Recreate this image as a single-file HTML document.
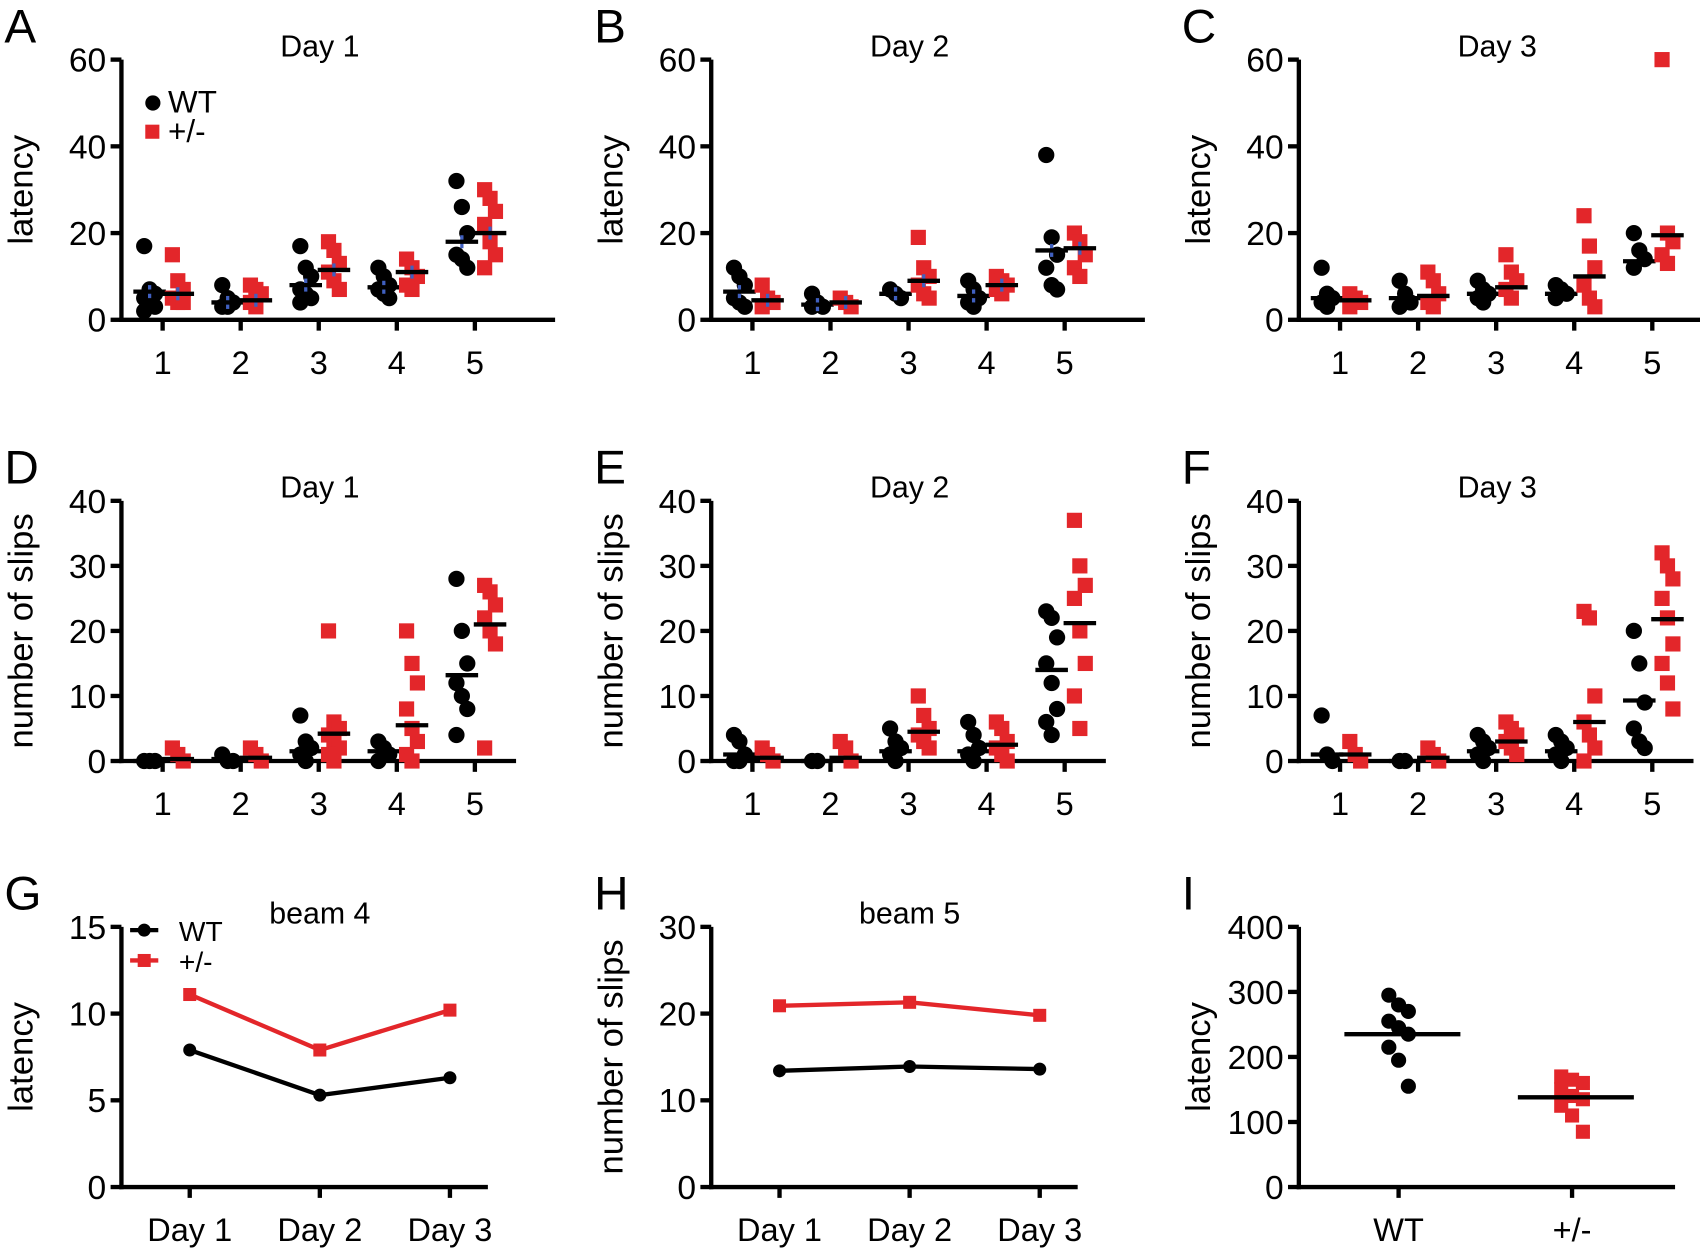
<!DOCTYPE html>
<html><head><meta charset="utf-8"><style>
html,body{margin:0;padding:0;background:#fff}
svg{display:block}
text{font-family:"Liberation Sans",sans-serif;fill:#000}
</style></head><body>
<svg id="s" width="1700" height="1251" viewBox="0 0 1568 1154" preserveAspectRatio="none" xmlns="http://www.w3.org/2000/svg"></svg>
<script>
const S=document.getElementById('s');let h='';
const R='#e3262a';
function T(x,y,s,t,a,extra){h+=`<text x="${x}" y="${y}" font-size="${s}" text-anchor="${a||'middle'}" ${extra||''}>${t}</text>`;}
function axes(ax,yt,yb,xr,ymax,step,xt,xlabels,ylab,title,tx,letter){
  h+=`<line x1="${ax}" y1="${yt}" x2="${ax}" y2="${yb+2}" stroke="#000" stroke-width="4"/>`;
  h+=`<line x1="${ax-2}" y1="${yb}" x2="${xr}" y2="${yb}" stroke="#000" stroke-width="4"/>`;
  for(let v=0;v<=ymax;v+=step){const y=yb-(yb-yt)*v/ymax;
    h+=`<line x1="${ax-10}" y1="${y}" x2="${ax}" y2="${y}" stroke="#000" stroke-width="4"/>`;
    T(ax-14,y+11,31,v,'end');}
  xt.forEach((x,i)=>{h+=`<line x1="${x}" y1="${yb}" x2="${x}" y2="${yb+10}" stroke="#000" stroke-width="4"/>`;T(x,yb+50,30,xlabels[i]);});
  const cy=(yt+yb)/2;
  T(ax-92,cy,32,ylab,'middle',`transform="rotate(-90 ${ax-92} ${cy})" dy="10"`);
  if(title)T(tx,yt-3,28,title);
  T(ax-108,yt-16,44,letter,'start');
}
function scatter(ax,yt,yb,ymax,xt,data,blue){
  const Y=v=>yb-(yb-yt)*v/ymax;
  data.forEach((g,i)=>{
    [[g[0],-12,0],[g[1],14,1]].forEach(([arr,off,red])=>{
      const vals=arr.slice(0,-1),m=arr[arr.length-1];const cx=xt[i]+off;
      vals.forEach((v,k)=>{const jx=cx+((k%3)-1)*5;const y=Y(v);
        if(red)h+=`<rect x="${jx-7}" y="${y-7}" width="14" height="14" fill="${R}"/>`;
        else h+=`<circle cx="${jx}" cy="${y}" r="7.5" fill="#000"/>`;});
      if(blue)h+=`<line x1="${cx}" y1="${Y(m)-6}" x2="${cx}" y2="${Y(m)+6}" stroke="#4060c0" stroke-width="3"/>`;
      h+=`<line x1="${cx-15}" y1="${Y(m)}" x2="${cx+15}" y2="${Y(m)}" stroke="#000" stroke-width="4"/>`;
    });
  });
}
const t5=a=>[a+38,a+110,a+182,a+254,a+326];
const L=['1','2','3','4','5'];
const cols=[112,656,1198];
const A=[[[17,7,6,5,4,3,2,6.5],[15,9,7,5,4,4,6]],[[8,5,4,3,3,4],[8,7,6,4,3,4.5]],[[17,12,10,7,6,5,4,8],[18,16,13,11,9,7,11.5]],[[12,10,8,7,6,5,7.5],[14,12,10,8,7,11]],[[32,26,20,15,14,12,18],[30,28,25,22,18,15,12,20]]];
const B=[[[12,10,8,5,4,3,6.5],[8,5,4,3,4.5]],[[6,4,3,3,3.5],[5,4,3,4]],[[7,6,5,6],[19,12,10,8,6,5,9]],[[9,7,5,4,3,5.5],[10,9,8,7,6,8]],[[38,19,15,12,8,7,16],[20,18,15,12,10,16.5]]];
const C=[[[12,6,5,4,3,5],[6,5,4,3,4.5]],[[9,6,4,3,5],[11,9,6,4,3,5.5]],[[9,7,6,5,4,6],[15,11,9,7,5,7.5]],[[8,7,6,5,6],[24,17,12,8,5,3,10]],[[20,16,14,12,13.5],[60,20,18,15,13,19.5]]];
const D=[[[0,0,0,0],[2,1,0,0.3]],[[1,0,0,0.3],[2,1,0,0.5]],[[7,3,2,1,0,1.5],[20,6,5,4,3,2,1,0,4.2]],[[3,2,1,0,1.5],[20,15,12,8,5,3,1,0,5.5]],[[28,20,15,12,10,8,4,13.2],[27,26,24,22,20,18,2,21]]];
const E=[[[4,3,1,0,0,1],[2,1,0,0.5]],[[0,0,0],[3,2,0,0.5]],[[5,3,2,1,0,1.5],[10,7,5,4,3,2,4.5]],[[6,4,2,1,0,1.5],[6,5,3,2,1,0,2.5]],[[23,22,19,15,12,8,6,4,14],[37,30,27,25,20,15,10,5,21.2]]];
const F=[[[7,1,0,1],[3,1,0,1]],[[0,0,0],[2,1,0,0.5]],[[4,3,2,1,0,1.5],[6,5,4,3,2,1,3]],[[4,3,2,1,0,1.5],[23,22,10,6,4,2,0,6]],[[20,15,9,5,3,2,9.3],[32,30,28,25,22,18,15,12,8,21.8]]];
[[A,'Day 1','A',true],[B,'Day 2','B',true],[C,'Day 3','C',false]].forEach(([d,t,l,b],i)=>{const ax=cols[i];
  axes(ax,55,295,ax+400,60,20,t5(ax),L,'latency',t,ax+183,l);scatter(ax,55,295,60,t5(ax),d,b);});
[[D,'Day 1','D'],[E,'Day 2','E'],[F,'Day 3','F']].forEach(([d,t,l],i)=>{const ax=cols[i];
  axes(ax,462,702,ax+364,40,10,t5(ax),L,'number of slips',t,ax+183,l);scatter(ax,462,702,40,t5(ax),d,false);});
h+=`<circle cx="141" cy="95" r="7" fill="#000"/>`;T(155,104,29,'WT','start');
h+=`<rect x="134" y="115" width="13" height="13" fill="${R}"/>`;T(155,131,29,'+/-','start');
function line(ax,ymax,step,wt,het,ylab,title,letter,legend){
  const xt=[ax+63,ax+183,ax+303];
  axes(ax,855,1095,ax+338,ymax,step,xt,['Day 1','Day 2','Day 3'],ylab,title,ax+183,letter);
  const Y=v=>1095-240*v/ymax;
  h+=`<polyline points="${xt.map((x,i)=>x+','+Y(het[i])).join(' ')}" fill="none" stroke="${R}" stroke-width="4"/>`;
  h+=`<polyline points="${xt.map((x,i)=>x+','+Y(wt[i])).join(' ')}" fill="none" stroke="#000" stroke-width="4"/>`;
  xt.forEach((x,i)=>{h+=`<rect x="${x-6}" y="${Y(het[i])-6}" width="12" height="12" fill="${R}"/><circle cx="${x}" cy="${Y(wt[i])}" r="6" fill="#000"/>`;});
  if(legend){h+=`<line x1="120" y1="858" x2="146" y2="858" stroke="#000" stroke-width="4"/><circle cx="133" cy="858" r="6" fill="#000"/>`;T(165,868,26,'WT','start');
   h+=`<line x1="120" y1="886" x2="146" y2="886" stroke="${R}" stroke-width="4"/><rect x="127" y="880" width="12" height="12" fill="${R}"/>`;T(165,896,26,'+/-','start');}
}
line(112,15,5,[7.9,5.3,6.3],[11.1,7.9,10.2],'latency','beam 4','G',true);
line(656,30,10,[13.4,13.9,13.6],[20.9,21.3,19.8],'number of slips','beam 5','H',false);
axes(1198,855,1095,1545,400,100,[1290,1450],['WT','+/-'],'latency','',0,'I');
(function(){const Y=v=>1095-240*v/400;
 [295,280,270,255,245,235,215,195,155].forEach((v,k)=>{h+=`<circle cx="${1290+((k%3)-1)*9}" cy="${Y(v)}" r="7" fill="#000"/>`;});
 [170,165,160,150,140,135,125,110,85].forEach((v,k)=>{h+=`<rect x="${1450+((k%3)-1)*10-6.5}" y="${Y(v)-6.5}" width="13" height="13" fill="${R}"/>`;});
 h+=`<line x1="1240" y1="${Y(235)}" x2="1347" y2="${Y(235)}" stroke="#000" stroke-width="4"/>`;
 h+=`<line x1="1400" y1="${Y(138)}" x2="1507" y2="${Y(138)}" stroke="#000" stroke-width="4"/>`;})();
S.innerHTML=h;
</script>
</body></html>
